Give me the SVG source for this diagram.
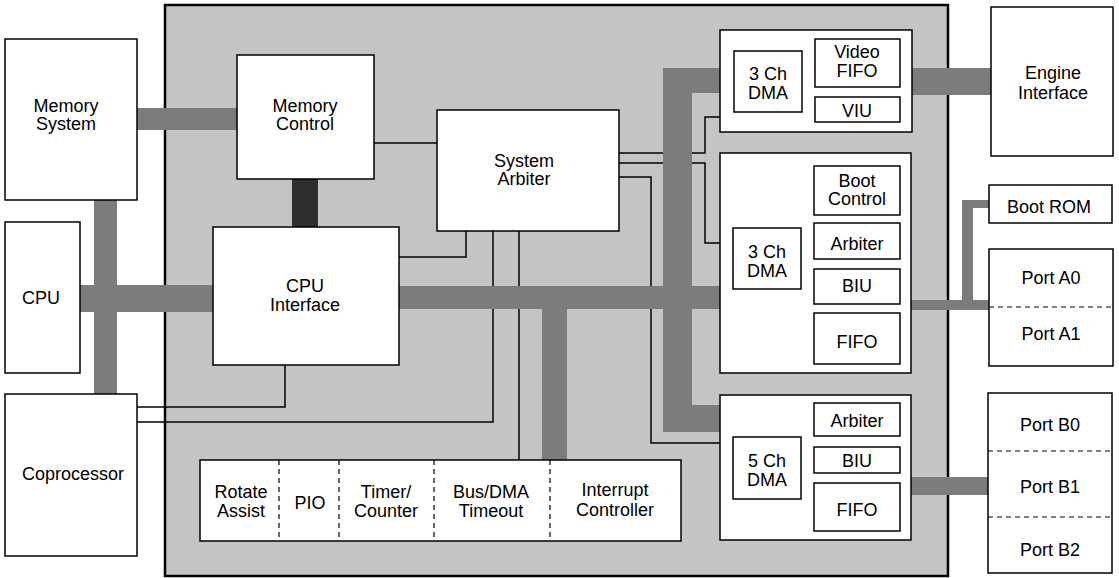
<svg xmlns="http://www.w3.org/2000/svg" width="1119" height="578" viewBox="0 0 1119 578">
<style>
.blk{fill:#fff;stroke:#000;stroke-width:1.5}
.t{font-family:"Liberation Sans",Arial,Helvetica,sans-serif;font-size:18px;text-anchor:middle;fill:#000}
.bus{fill:#7c7c7c}
.dark{fill:#2e2e2e}
.wire{fill:none;stroke:#000;stroke-width:1.5}
.dash{fill:none;stroke:#000;stroke-width:1.2;stroke-dasharray:5 4}
</style>
<rect width="1119" height="578" fill="#fff"/>
<g id="chip">
<rect x="165" y="5" width="783" height="571" fill="#c4c4c4" stroke="#000" stroke-width="2.5"/>
</g>
<g id="connectors">
<polyline class="wire" points="374,143 437,143"/>
<polyline class="wire" points="399,257 466,257 466,231"/>
<polyline class="wire" points="137,407 285,407 285,365"/>
<polyline class="wire" points="137,422 493,422 493,231"/>
<polyline class="wire" points="519,231 519,460"/>
<polyline class="wire" points="619,153 705,153 705,117 720,117"/>
<polyline class="wire" points="619,163 705,163 705,243 720,243"/>
<polyline class="wire" points="619,177 651,177 651,443 720,443"/>
<rect class="bus" x="137" y="108" width="100" height="22"/>
<rect class="bus" x="94" y="200" width="23" height="194"/>
<rect class="bus" x="80" y="285" width="133" height="27"/>
<rect class="dark" x="292" y="179" width="26" height="48"/>
<rect class="bus" x="399" y="286" width="321" height="23"/>
<rect class="bus" x="542" y="286" width="25" height="174"/>
<path class="bus" d="M663,68 H720 V93 H692 V405 H720 V432 H663 Z"/>
<rect class="bus" x="912" y="68" width="79" height="27"/>
<rect class="bus" x="911" y="300" width="78" height="10"/>
<path class="bus" d="M962,310 V200 H989 V208 H973 V310 Z"/>
<rect class="bus" x="911" y="477" width="77" height="18"/>
</g>
<g id="memory-system">
<rect class="blk" x="5" y="39" width="132" height="161"/>
<text class="t" x="66" y="112">Memory</text>
<text class="t" x="66" y="130">System</text>
</g>
<g id="cpu">
<rect class="blk" x="5" y="222" width="75" height="151"/>
<text class="t" x="41" y="304">CPU</text>
</g>
<g id="coprocessor">
<rect class="blk" x="5" y="394" width="132" height="162"/>
<text class="t" x="73" y="480">Coprocessor</text>
</g>
<g id="memory-control">
<rect class="blk" x="237" y="55" width="137" height="124"/>
<text class="t" x="305" y="112">Memory</text>
<text class="t" x="305" y="130">Control</text>
</g>
<g id="cpu-interface">
<rect class="blk" x="213" y="227" width="186" height="138"/>
<text class="t" x="305" y="292">CPU</text>
<text class="t" x="305" y="311">Interface</text>
</g>
<g id="system-arbiter">
<rect class="blk" x="437" y="110" width="182" height="121"/>
<text class="t" x="524" y="167">System</text>
<text class="t" x="524" y="185">Arbiter</text>
</g>
<g id="video-dma">
<rect class="blk" x="720" y="30" width="192" height="102"/>
<rect class="blk" x="734" y="51" width="68" height="61"/>
<text class="t" x="768" y="80">3 Ch</text>
<text class="t" x="768" y="99">DMA</text>
<rect class="blk" x="815" y="39" width="85" height="48"/>
<text class="t" x="857" y="58">Video</text>
<text class="t" x="857" y="77">FIFO</text>
<rect class="blk" x="815" y="97" width="85" height="25"/>
<text class="t" x="857" y="117">VIU</text>
</g>
<g id="port-a-dma">
<rect class="blk" x="720" y="153" width="191" height="220"/>
<rect class="blk" x="733" y="228" width="68" height="61"/>
<text class="t" x="767" y="258">3 Ch</text>
<text class="t" x="767" y="277">DMA</text>
<rect class="blk" x="814" y="166" width="86" height="49"/>
<text class="t" x="857" y="187">Boot</text>
<text class="t" x="857" y="205">Control</text>
<rect class="blk" x="814" y="223" width="86" height="36"/>
<text class="t" x="857" y="250">Arbiter</text>
<rect class="blk" x="814" y="269" width="86" height="35"/>
<text class="t" x="857" y="292">BIU</text>
<rect class="blk" x="814" y="313" width="86" height="51"/>
<text class="t" x="857" y="348">FIFO</text>
</g>
<g id="port-b-dma">
<rect class="blk" x="720" y="395" width="191" height="145"/>
<rect class="blk" x="733" y="437" width="68" height="62"/>
<text class="t" x="767" y="467">5 Ch</text>
<text class="t" x="767" y="486">DMA</text>
<rect class="blk" x="814" y="403" width="86" height="33"/>
<text class="t" x="857" y="427">Arbiter</text>
<rect class="blk" x="814" y="447" width="86" height="26"/>
<text class="t" x="857" y="467">BIU</text>
<rect class="blk" x="814" y="483" width="86" height="48"/>
<text class="t" x="857" y="516">FIFO</text>
</g>
<g id="peripherals">
<rect class="blk" x="200" y="460" width="481" height="81"/>
<line class="dash" x1="279" y1="460" x2="279" y2="541"/>
<line class="dash" x1="339" y1="460" x2="339" y2="541"/>
<line class="dash" x1="434" y1="460" x2="434" y2="541"/>
<line class="dash" x1="550" y1="460" x2="550" y2="541"/>
<text class="t" x="241" y="498">Rotate</text>
<text class="t" x="241" y="517">Assist</text>
<text class="t" x="310" y="509">PIO</text>
<text class="t" x="386" y="498">Timer/</text>
<text class="t" x="386" y="517">Counter</text>
<text class="t" x="491" y="498">Bus/DMA</text>
<text class="t" x="491" y="517">Timeout</text>
<text class="t" x="615" y="496">Interrupt</text>
<text class="t" x="615" y="516">Controller</text>
</g>
<g id="engine-interface">
<rect class="blk" x="991" y="7" width="122" height="149"/>
<text class="t" x="1053" y="79">Engine</text>
<text class="t" x="1053" y="99">Interface</text>
</g>
<g id="boot-rom">
<rect class="blk" x="989" y="185" width="123" height="38"/>
<text class="t" x="1049" y="213">Boot ROM</text>
</g>
<g id="port-a">
<rect class="blk" x="989" y="249" width="124" height="117"/>
<line class="dash" x1="989" y1="307" x2="1113" y2="307"/>
<text class="t" x="1051" y="284">Port A0</text>
<text class="t" x="1051" y="340">Port A1</text>
</g>
<g id="port-b">
<rect class="blk" x="988" y="393" width="124" height="180"/>
<line class="dash" x1="988" y1="451" x2="1112" y2="451"/>
<line class="dash" x1="988" y1="517" x2="1112" y2="517"/>
<text class="t" x="1050" y="431">Port B0</text>
<text class="t" x="1050" y="493">Port B1</text>
<text class="t" x="1050" y="556">Port B2</text>
</g>
</svg>
